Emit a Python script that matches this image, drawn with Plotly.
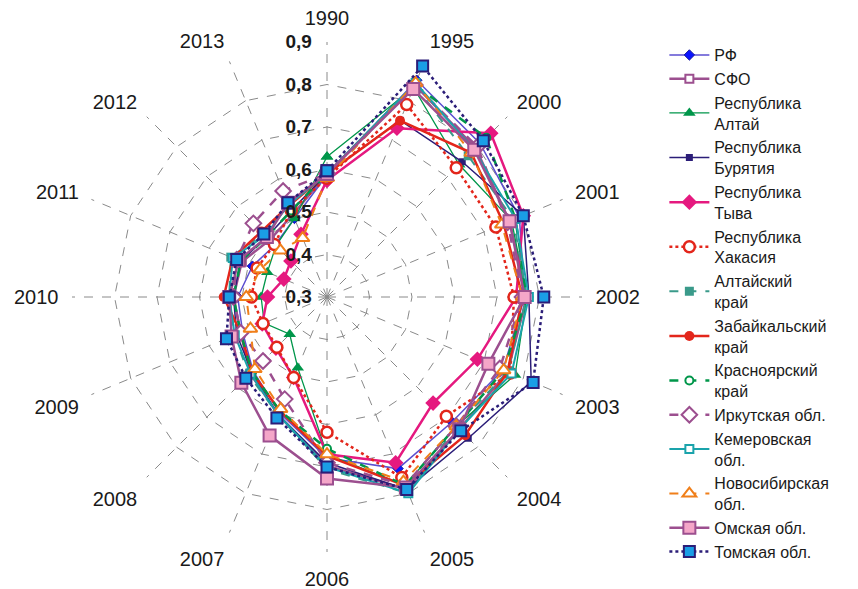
import plotly.graph_objects as go

categories = ['1990', '1995', '2000', '2001', '2002', '2003', '2004', '2005',
              '2006', '2007', '2008', '2009', '2010', '2011', '2012', '2013']

radial_ticks = [0.3, 0.4, 0.5, 0.6, 0.7, 0.8, 0.9]
radial_ticktext = ['0,3', '0,4', '0,5', '0,6', '0,7', '0,8', '0,9']

rf = [0.587, 0.852, 0.81, 0.79, 0.765, 0.748, 0.716, 0.737, 0.679, 0.594, 0.546, 0.515, 0.51, 0.49, 0.473, 0.50]
sfo = [0.59, 0.84, 0.795, 0.765, 0.77, 0.76, 0.74, 0.79, 0.697, 0.60, 0.555, 0.52, 0.52, 0.517, 0.49, 0.51]
altai = [0.63, 0.833, 0.74, 0.77, 0.77, 0.779, 0.73, 0.78, 0.67, 0.48, 0.424, 0.46, 0.455, 0.452, 0.47, 0.50]
buryatia = [0.59, 0.75, 0.75, 0.80, 0.775, 0.82, 0.77, 0.79, 0.69, 0.60, 0.55, 0.53, 0.52, 0.52, 0.50, 0.52]
tyva = [0.575, 0.73, 0.845, 0.80, 0.745, 0.683, 0.653, 0.722, 0.67, 0.505, 0.47, 0.465, 0.44, 0.41, 0.42, 0.46]
khakassia = [0.58, 0.79, 0.73, 0.73, 0.74, 0.767, 0.697, 0.76, 0.618, 0.505, 0.467, 0.463, 0.478, 0.478, 0.475, 0.52]
altai_krai = [0.59, 0.84, 0.77, 0.775, 0.77, 0.76, 0.73, 0.80, 0.705, 0.60, 0.56, 0.535, 0.53, 0.545, 0.51, 0.535]
zabaikal = [0.59, 0.749, 0.78, 0.75, 0.76, 0.76, 0.76, 0.78, 0.674, 0.59, 0.55, 0.52, 0.543, 0.54, 0.518, 0.533]
krasnoyarsk = [0.59, 0.84, 0.83, 0.78, 0.77, 0.75, 0.73, 0.78, 0.657, 0.59, 0.55, 0.52, 0.52, 0.52, 0.50, 0.52]
irkutsk = [0.59, 0.84, 0.80, 0.76, 0.76, 0.74, 0.73, 0.78, 0.69, 0.56, 0.513, 0.52, 0.52, 0.53, 0.545, 0.57]
kemerovo = [0.59, 0.845, 0.79, 0.78, 0.775, 0.77, 0.74, 0.80, 0.70, 0.60, 0.555, 0.535, 0.53, 0.54, 0.505, 0.535]
novosib = [0.58, 0.845, 0.78, 0.745, 0.76, 0.75, 0.73, 0.77, 0.67, 0.585, 0.54, 0.495, 0.49, 0.47, 0.455, 0.45]
omsk = [0.59, 0.83, 0.79, 0.765, 0.765, 0.711, 0.74, 0.785, 0.727, 0.653, 0.585, 0.543, 0.53, 0.525, 0.50, 0.54]
tomsk = [0.597, 0.888, 0.82, 0.80, 0.81, 0.825, 0.745, 0.79, 0.70, 0.608, 0.57, 0.556, 0.53, 0.53, 0.51, 0.54]

series = [
    ('РФ', rf, dict(color='#5b4fd0', width=1.5, dash='solid'),
     dict(symbol='diamond', size=8, color='#0a14ff', line=dict(color='#1a1a9a', width=1))),
    ('СФО', sfo, dict(color='#9c4f8f', width=2.5, dash='solid'),
     dict(symbol='square', size=8, color='white', line=dict(color='#9c4f8f', width=2))),
    ('Республика<br>Алтай', altai, dict(color='#00964a', width=1.3, dash='solid'),
     dict(symbol='triangle-up', size=11, color='#00964a', line=dict(color='#00964a', width=0))),
    ('Республика<br>Бурятия', buryatia, dict(color='#2b1d78', width=1.5, dash='solid'),
     dict(symbol='square', size=7, color='#2b1d78', line=dict(color='#2b1d78', width=0))),
    ('Республика<br>Тыва', tyva, dict(color='#e5197f', width=2.5, dash='solid'),
     dict(symbol='diamond', size=12, color='#e5197f', line=dict(color='#e5197f', width=0))),
    ('Республика<br>Хакасия', khakassia, dict(color='#e3261b', width=2.5, dash='dot'),
     dict(symbol='circle', size=11, color='white', line=dict(color='#e3261b', width=2.5))),
    ('Алтайский<br>край', altai_krai, dict(color='#3a9a8a', width=2, dash='dash'),
     dict(symbol='square', size=9, color='#3a9a8a', line=dict(color='#3a9a8a', width=0))),
    ('Забайкальский<br>край', zabaikal, dict(color='#e3261b', width=2.5, dash='solid'),
     dict(symbol='circle', size=10, color='#e3261b', line=dict(color='#e3261b', width=0))),
    ('Красноярский<br>край', krasnoyarsk, dict(color='#00964a', width=2.5, dash='dash'),
     dict(symbol='circle', size=8, color='white', line=dict(color='#00964a', width=2))),
    ('Иркутская обл.', irkutsk, dict(color='#9c4f8f', width=2.5, dash='dash'),
     dict(symbol='diamond', size=12, color='white', line=dict(color='#9c4f8f', width=2))),
    ('Кемеровская<br>обл.', kemerovo, dict(color='#1aa3ab', width=2, dash='solid'),
     dict(symbol='square', size=8, color='white', line=dict(color='#1aa3ab', width=2))),
    ('Новосибирская<br>обл.', novosib, dict(color='#f07f1a', width=2, dash='dash'),
     dict(symbol='triangle-up', size=12, color='white', line=dict(color='#f07f1a', width=2))),
    ('Омская обл.', omsk, dict(color='#9c4f8f', width=2.5, dash='solid'),
     dict(symbol='square', size=12, color='#f4a6c8', line=dict(color='#9c4f8f', width=2))),
    ('Томская обл.', tomsk, dict(color='#2b1d78', width=2.5, dash='dot'),
     dict(symbol='square', size=11, color='#1a9ee6', line=dict(color='#2b1d78', width=2))),
]

fig = go.Figure()
for name, vals, line, marker in series:
    fig.add_trace(go.Scatterpolar(
        r=vals + [vals[0]],
        theta=categories + [categories[0]],
        mode='lines+markers',
        name=name,
        line=line,
        marker=marker,
    ))

FONT = 'Liberation Sans, Arial, sans-serif'
grid_color = '#8a8a8a'
fig.update_layout(
    width=858, height=589,
    margin=dict(l=0, r=0, t=0, b=0, autoexpand=False),
    paper_bgcolor='white',
    font=dict(family=FONT, size=17, color='#1a1a1a'),
    polar=dict(
        domain=dict(x=[64 / 858, 574 / 858], y=[45 / 589, 555 / 589]),
        bgcolor='white',
        gridshape='linear',
        radialaxis=dict(
            range=[0.3, 0.9],
            tickvals=radial_ticks,
            ticktext=radial_ticktext,
            angle=90,
            tickangle=90,
            side='counterclockwise',
            showline=False,
            ticks='outside',
            ticklen=8,
            tickcolor='rgba(0,0,0,0)',
            gridcolor=grid_color,
            griddash='dash',
            gridwidth=1.2,
            tickfont=dict(size=19, color='#1a1a1a', family=FONT, weight='bold'),
        ),
        angularaxis=dict(
            type='category',
            categoryarray=categories,
            direction='clockwise',
            rotation=90,
            showline=False,
            gridcolor=grid_color,
            griddash='dash',
            gridwidth=1.2,
            ticks='outside',
            ticklen=9,
            tickcolor='rgba(0,0,0,0)',
            tickfont=dict(size=20, color='#1a1a1a', family=FONT),
        ),
    ),
    legend=dict(
        x=0.765, y=0.949, xanchor='left', yanchor='top',
        font=dict(size=16, color='#1a1a1a', family=FONT),
        itemwidth=40,
        bgcolor='rgba(0,0,0,0)',
    ),
)

fig.write_html('out.html')
